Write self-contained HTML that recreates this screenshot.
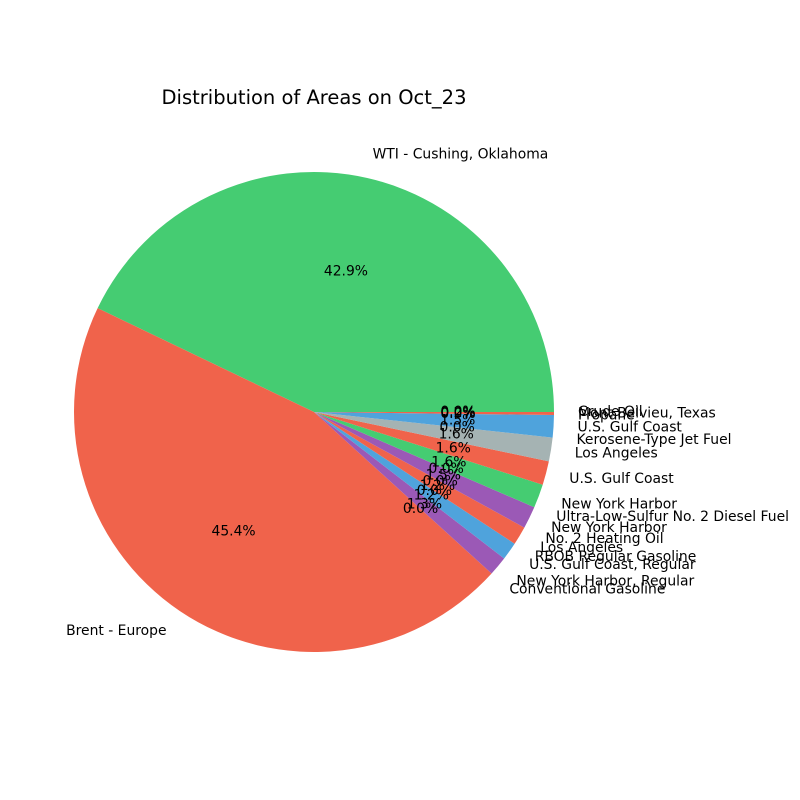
<!DOCTYPE html>
<html><head><meta charset="utf-8"><style>
body{margin:0;background:#fff;}
svg{display:block;font-family:"DejaVu Sans","Liberation Sans",sans-serif;}
</style></head><body>
<svg id="chart" width="800" height="800">
<text x="314" y="104" font-size="19.5" text-anchor="middle">Distribution of Areas on Oct_23</text>
<g id="slices"></g>
<g id="labels"></g>
</svg>
<script>
const categories = ["WTI - Cushing, Oklahoma","Brent - Europe","Conventional Gasoline","New York Harbor, Regular","U.S. Gulf Coast, Regular","RBOB Regular Gasoline","Los Angeles","No. 2 Heating Oil","New York Harbor","Ultra-Low-Sulfur No. 2 Diesel Fuel","New York Harbor","U.S. Gulf Coast","Los Angeles","Kerosene-Type Jet Fuel","U.S. Gulf Coast","Propane","Mont Belvieu, Texas","Crude Oil"];
const values = [42.9,45.4,0,1.3,1.2,0,1.25,0,1.5,0,1.6,1.6,1.6,0,1.5,0,0.2,0];
const colors = ["#45cc72","#f0634b","#9b59b6","#9b59b6","#4fa3dc","#4fa3dc","#f0634b","#f0634b","#9b59b6","#9b59b6","#45cc72","#f0634b","#a5b3b3","#a5b3b3","#4fa3dc","#4fa3dc","#f0634b","#f0634b"];
const NS="http://www.w3.org/2000/svg";
const cx=314, cy=412, R=240;
const total=values.reduce((a,b)=>a+b,0);
const gS=document.getElementById('slices'), gL=document.getElementById('labels');
function pt(a,r){return [cx+r*Math.cos(a), cy-r*Math.sin(a)];}
let start=0;
values.forEach((v,i)=>{
  const sweep=v/total*2*Math.PI;
  const end=start+sweep;
  if(sweep>0){
    const p=document.createElementNS(NS,'path');
    const [x1,y1]=pt(start,R),[x2,y2]=pt(end,R);
    p.setAttribute('d',`M${cx},${cy} L${x1},${y1} A${R},${R} 0 ${sweep>Math.PI?1:0} 0 ${x2},${y2} Z`);
    p.setAttribute('fill',colors[i]);
    
    
    gS.appendChild(p);
  }
  const mid=(start+end)/2;
  const [lx,ly]=pt(mid,R*1.1);
  const t=document.createElementNS(NS,'text');
  t.setAttribute('x',lx);t.setAttribute('y',ly);
  t.setAttribute('font-size','13.9');
  t.setAttribute('dominant-baseline','central');
  t.setAttribute('text-anchor',Math.cos(mid)>=0?'start':'end');
  t.textContent=categories[i];
  
  
  gL.appendChild(t);
  const [px,py]=pt(mid,R*0.6);
  const q=document.createElementNS(NS,'text');
  q.setAttribute('x',px);q.setAttribute('y',py);
  q.setAttribute('font-size','13.9');
  q.setAttribute('dominant-baseline','central');
  q.setAttribute('text-anchor','middle');
  q.textContent=(v/total*100).toFixed(1)+'%';
  
  
  gL.appendChild(q);
  start=end;
});
</script>
</body></html>
